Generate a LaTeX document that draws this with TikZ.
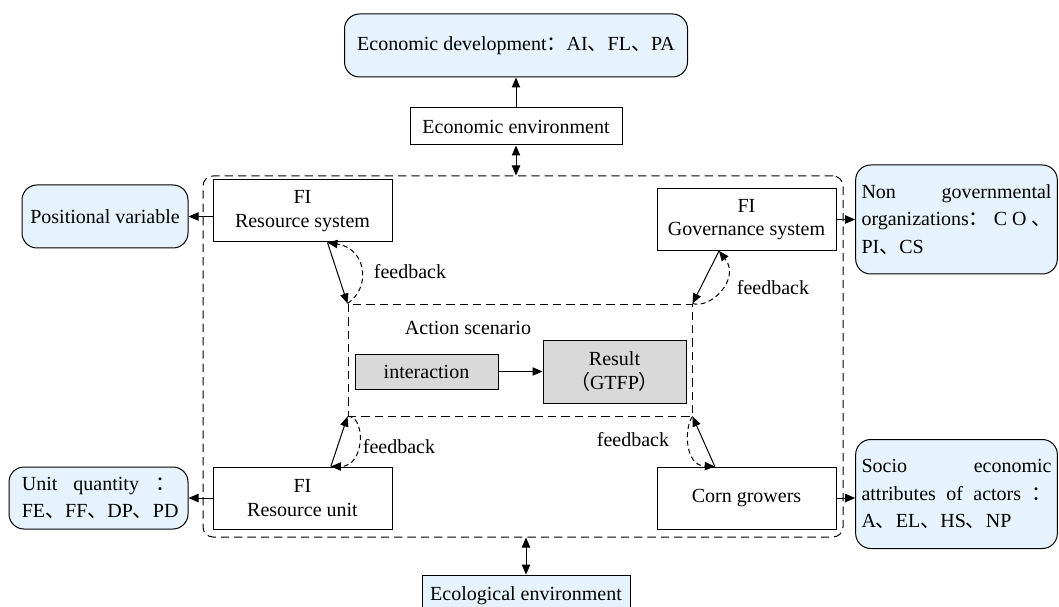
\documentclass[tikz,border=0pt]{standalone}
\usepackage{fontspec}
\setmainfont{Liberation Serif}
\newfontfamily\cjk{Noto Sans CJK SC}
\newcommand{\dun}{{\cjk 、}}
\newcommand{\mao}{{\cjk ：}}
\usetikzlibrary{arrows.meta}
\definecolor{paleblue}{RGB}{230,243,252}
\definecolor{boxgray}{RGB}{217,217,217}

\begin{document}
\begin{tikzpicture}[x=0.6pt,y=-0.6pt,>={Triangle[length=6pt,width=5pt]},line width=0.6pt,
    font=\fontsize{12}{14}\selectfont,
    box/.style={draw,fill=white,align=center,inner sep=2pt,minimum width=107.4pt,minimum height=37.2pt},
    note/.style={draw,fill=paleblue,rounded corners=9pt,align=left,inner xsep=3.5pt,
                 font=\fontsize{12}{16.6}\selectfont},
    grey/.style={draw,fill=boxgray,align=center,inner sep=2pt,minimum width=85.8pt},
    fb/.style={dashed,dash pattern=on 3pt off 2pt},
    frm/.style={draw,dash pattern=on 5pt off 3pt,inner sep=0pt}]
  \useasboundingbox (0,0) rectangle (1059,607);

  % frames
  \node[frm,rounded corners=6pt,minimum width=384pt,minimum height=216.6pt] (frame) at (523,356.5) {};
  \node[frm,minimum width=206.4pt,minimum height=67.2pt] (scene) at (520,360) {};
  \node (act) at (468,328) {Action scenario};

  % boxes
  \node[note,align=center,minimum width=205.8pt,minimum height=37.8pt] (dev) at (516,45.5) {Economic development\mao AI\dun FL\dun PA};
  \node[box,minimum width=127.2pt,minimum height=22.2pt] (econ) at (516,126.5) {Economic environment};
  \node[box] (rs) at (302.5,211) {FI\\Resource system};
  \node[note,align=center,minimum width=99.6pt,minimum height=37.8pt] (pos) at (105,216.5) {Positional variable};
  \node[box] (gs) at (746.5,219.5) {FI\\Governance system};
  \node[note,text width=114pt,minimum width=121pt,minimum height=65.4pt] (ngo) at (956.5,219.5)
    {Non\hfill governmental\\organizations\mao\hfill C\hfill O\hfill\dun\\PI\dun CS};
  \node[grey,minimum height=21pt] (inter) at (426.5,371.5) {interaction};
  \node[grey,minimum height=37.8pt] (result) at (614.5,371.5) {Result\\{\cjk （}GTFP{\cjk ）}};
  \node[box] (ru) at (302.5,498) {FI\\Resource unit};
  \node[note,text width=92pt,minimum width=107.4pt,minimum height=37.2pt] (uq) at (98.5,498)
    {Unit\hfill quantity\hfill\mao\\FE\dun FF\dun DP\dun PD};
  \node[box] (corn) at (746.5,498) {Corn growers};
  \node[note,text width=114pt,minimum width=121pt,minimum height=65.4pt] (socio) at (956.5,494)
    {Socio\hfill economic\\attributes\hfill of\hfill actors\hfill\mao\\A\dun EL\dun HS\dun NP};
  \node[draw,fill=paleblue,minimum width=124.8pt,minimum height=25pt] (eco) at (526,596) {Ecological environment};

  % connectors
  \draw[->]
    (econ) edge (dev)
    (gs) edge (ngo)
    (ru) edge (uq)
    (inter) edge (result);
  \draw[<->] (econ.south) -- (econ.south |- frame.north);
  \draw[<->] (eco.north) -- (eco.north |- frame.south);
  \draw[->] (rs.west |- pos.east) -- (pos.east);
  \draw[->] (corn.east) -- (socio.west |- corn.east);

  % feedback loops
  \draw[->] ([xshift=15pt]rs.south) -- (scene.north west);
  \draw[->,fb] (scene.north west) .. controls +(24,-16) and +(39,6) .. ([xshift=15pt]rs.south);
  \draw[->] ([xshift=-16.5pt]gs.south) -- (scene.north east);
  \draw[->,fb] (scene.north east) .. controls +(18,6) and +(22,28) .. ([xshift=-16.5pt]gs.south);
  \draw[->] ([xshift=17pt]ru.north) -- (scene.south west);
  \draw[->,fb] (scene.south west) .. controls +(18,-2) and +(35,0) .. ([xshift=17pt]ru.north);
  \draw[->] ([xshift=-19pt]corn.north) -- (scene.south east);
  \draw[->,fb] (scene.south east) .. controls +(-8,10) and +(-31,-1) .. ([xshift=-19pt]corn.north);

  \node (fb1) at (410,272) {feedback};
  \node (fb2) at (773,288) {feedback};
  \node (fb3) at (399,447) {feedback};
  \node (fb4) at (633,440) {feedback};
\end{tikzpicture}
\end{document}
